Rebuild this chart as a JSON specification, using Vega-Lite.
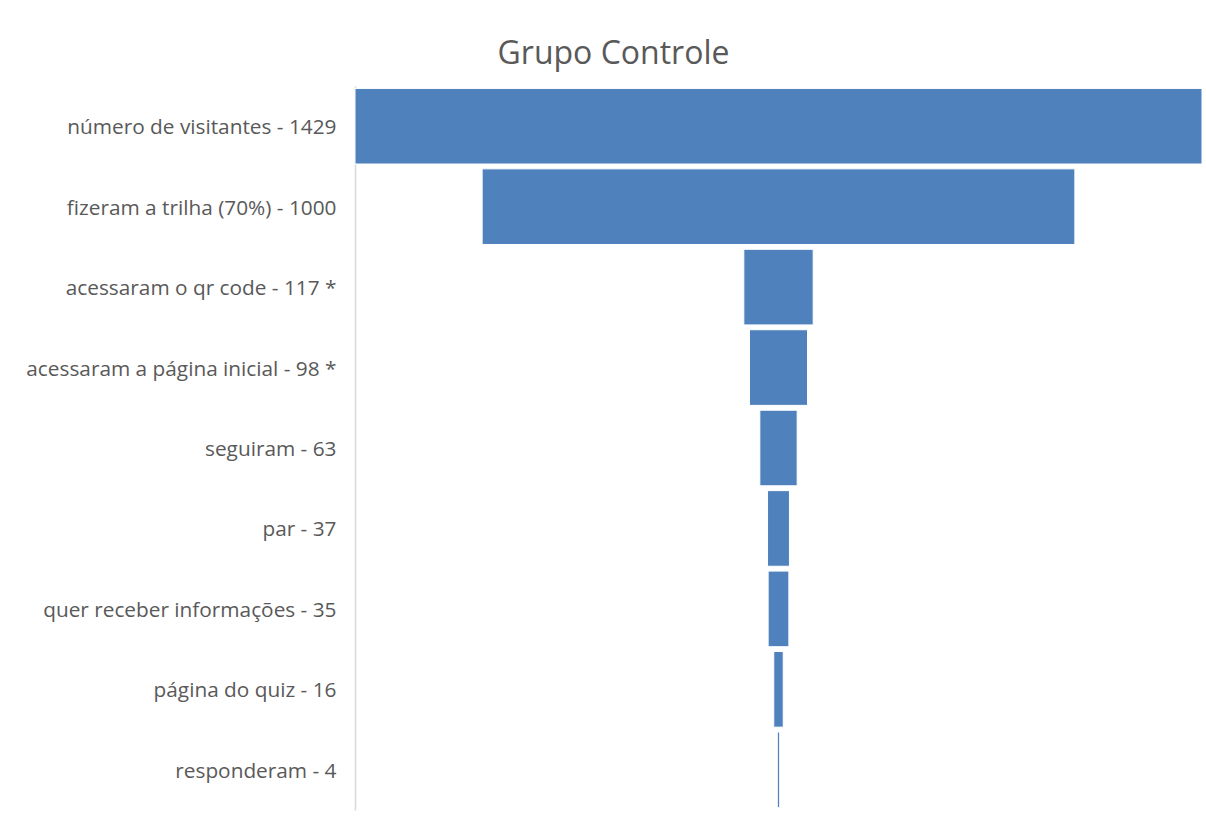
{
  "$schema": "https://vega.github.io/schema/vega-lite/v6.json",
  "width": 847,
  "height": 724,
  "autosize": {"type": "none"},
  "padding": {"left": 355, "top": 86, "right": 4, "bottom": 9},
  "background": "white",
  "title": {
    "text": "Grupo Controle",
    "font": "Open Sans",
    "fontSize": 32,
    "fontWeight": "normal",
    "color": "#595959",
    "anchor": "middle",
    "dx": -165,
    "offset": 15
  },
  "data": {
    "values": [
      {"etapa": "número de visitantes - 1429", "valor": 1429},
      {"etapa": "fizeram a trilha (70%) - 1000", "valor": 1000},
      {"etapa": "acessaram o qr code - 117 *", "valor": 117},
      {"etapa": "acessaram a página inicial - 98 *", "valor": 98},
      {"etapa": "seguiram - 63", "valor": 63},
      {"etapa": "par - 37", "valor": 37},
      {"etapa": "quer receber informações - 35", "valor": 35},
      {"etapa": "página do quiz - 16", "valor": 16},
      {"etapa": "responderam - 4", "valor": 4}
    ]
  },
  "mark": {"type": "bar", "color": "#4f81bd", "stroke": "white", "strokeWidth": 1},
  "encoding": {
    "y": {
      "field": "etapa",
      "type": "nominal",
      "sort": null,
      "scale": {"paddingInner": 0.06, "paddingOuter": 0.03},
      "axis": {
        "title": null,
        "ticks": false,
        "domainColor": "#d9d9d9",
        "domainWidth": 1.5,
        "labelFont": "Open Sans",
        "labelFontSize": 20.8,
        "labelColor": "#595959",
        "labelPadding": 19,
        "labelOffset": 2,
        "labelLimit": 400
      }
    },
    "x": {
      "field": "valor",
      "type": "quantitative",
      "stack": "center",
      "scale": {"domain": [0, 1429], "nice": false, "zero": true},
      "axis": null
    }
  },
  "config": {"view": {"stroke": null}}
}
